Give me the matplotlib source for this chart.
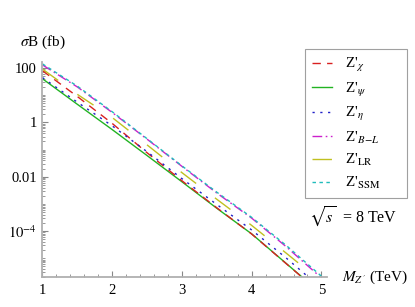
import matplotlib
matplotlib.use("Agg")
import matplotlib.pyplot as plt
from matplotlib.ticker import FixedLocator, NullFormatter

plt.rcParams['font.family'] = ['Liberation Serif', 'DejaVu Serif']
plt.rcParams['mathtext.fontset'] = 'stix'

# Z' mass (TeV) and sigma*B (fb)
mass = [1.0, 1.5, 2.0, 2.5, 3.0, 3.5, 4.0, 4.5, 5.0]
z_chi = [79, 8.9, 0.91, 0.076, 0.0071, 7.2e-4, 7.8e-5, 6.2e-6, 4.9e-7]
z_psi = [40, 4.6, 0.54, 0.060, 0.0065, 6.9e-4, 7.9e-5, 6.3e-6, 5.0e-7]
z_eta = [44, 5.5, 0.74, 0.083, 0.0085, 9.5e-4, 1.1e-4, 1.0e-5, 7.9e-7]
z_bl = [129, 20, 2.3, 0.24, 0.024, 2.5e-3, 3.0e-4, 2.6e-5, 1.9e-6]
z_lr = [91, 10.7, 1.5, 0.148, 0.0141, 1.48e-3, 1.62e-4, 1.51e-5, 1.38e-6]
z_ssm = [141, 21.4, 2.45, 0.25, 0.025, 2.7e-3, 3.2e-4, 2.9e-5, 2.2e-6]

labels = [r"Z'$_{\chi}$", r"Z'$_{\psi}$", r"Z'$_{\eta}$",
          r"Z'$_{B\!-\!L}$", r"Z'$_{\rm LR}$", r"Z'$_{\rm SSM}$"]

fig = plt.figure(figsize=(4.15, 3.07), dpi=100)
ax = fig.add_axes([0.1024, 0.0967, 0.6855, 0.7023])

ax.plot(mass, z_psi, color='#22b322', lw=1.0, label=labels[1])
ax.plot(mass, z_chi, color='#d92020', lw=1.0, dashes=(6, 4.5), label=labels[0])
ax.plot(mass, z_eta, color='#2020c8', lw=1.0, dashes=(1.6, 4), label=labels[2])
ax.plot(mass, z_lr, color='#c0c020', lw=1.0, dashes=(14, 17), label=labels[4])
ax.plot(mass, z_bl, color='#cc20cc', lw=1.0, dashes=(7, 2.5, 1.2, 2.5), label=labels[3])
ax.plot(mass, z_ssm, color='#20bcbc', lw=1.0, dashes=(2.5, 2.5), label=labels[5])

ax.set_yscale('log')
ax.set_xlim(1, 5.08)
ax.set_ylim(10 ** -5.70, 10 ** 2.23)

for s in ['top', 'right']:
    ax.spines[s].set_visible(False)
for s in ['left', 'bottom']:
    ax.spines[s].set_color('#b0b0b0')
    ax.spines[s].set_linewidth(1.3)

ax.set_xticks([1, 2, 3, 4, 5])
ax.set_xticks([1 + 0.2 * i for i in range(21) if i % 5], minor=True)
ax.set_yticks([1e2, 1, 1e-2, 1e-4])
ax.set_yticklabels(['100', '1', '0.01', r'$10^{-4}$'])
minor = []
for e in range(-6, 3):
    for m in range(1, 10):
        if m == 1 and e % 2 == 0:
            continue
        minor.append(m * 10.0 ** e)
ax.yaxis.set_minor_locator(FixedLocator(minor))
ax.yaxis.set_minor_formatter(NullFormatter())
ax.tick_params(which='both', direction='in', color='#888888', labelsize=10.5)
ax.tick_params(which='major', length=4, width=0.8)
ax.tick_params(which='minor', length=2, width=0.6)
ax.tick_params(axis='x', pad=5)
ax.tick_params(axis='y', pad=4)

fig.text(0.048, 0.863, r"$\sigma$B (fb)", fontsize=11, va='center', ha='left')
fig.text(0.824, 0.096, r"$M_{Z'}$ (TeV)", fontsize=11, va='center', ha='left')
fig.text(0.745, 0.292, r"$\sqrt{s}$  = 8 TeV", fontsize=11.5, va='center', ha='left')

h, l = ax.get_legend_handles_labels()
order = [1, 0, 2, 4, 3, 5]
leg = fig.legend([h[i] for i in order], [l[i] for i in order],
                 loc='upper left', bbox_to_anchor=(0.735, 0.355, 0.246, 0.485),
                 mode='expand', borderaxespad=0,
                 fontsize=11, frameon=True, fancybox=False, handlelength=1.3,
                 labelspacing=0.43, borderpad=0.45, handletextpad=0.85)
leg.get_frame().set_edgecolor('#888888')
leg.get_frame().set_linewidth(0.8)

fig.savefig('out.png', dpi=100)
